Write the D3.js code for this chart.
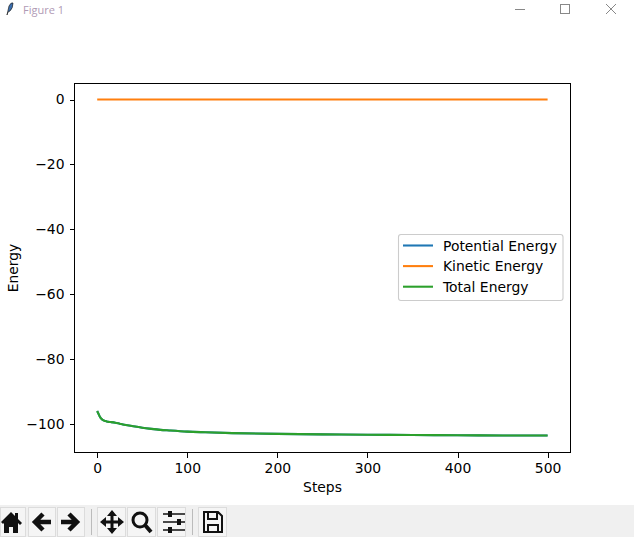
<!DOCTYPE html>
<html><head><meta charset="utf-8">
<script src="https://cdn.jsdelivr.net/npm/d3@7"></script>
<style>html,body{margin:0;padding:0;background:#fff;overflow:hidden}svg{display:block}text{font-family:"DejaVu Sans";fill:#000}</style>
</head><body><div id="c"></div>
<script>
const steps=[0,1,2,3,4,5,6,8,10,12,15,20,25,30,40,50,60,70,80,100,120,150,200,250,300,350,400,450,500];
const potential=[-96,-96.6,-97.2,-97.8,-98.2,-98.5,-98.7,-99,-99.15,-99.3,-99.4,-99.6,-99.9,-100.2,-100.7,-101.15,-101.5,-101.8,-102,-102.35,-102.55,-102.8,-103.05,-103.2,-103.3,-103.38,-103.47,-103.52,-103.55];
const kinetic=steps.map(()=>0);
const total=potential.slice();
const xTicks=[0,100,200,300,400,500];
const yTicks=[0,-20,-40,-60,-80,-100];
const legendLabels=["Potential Energy","Kinetic Energy","Total Energy"];
const colors=["#1f77b4","#ff7f0e","#2ca02c"];
const series=[potential,kinetic,total];
const W=634,H=537,L=74.5,R=570.5,T=83.5,B=452.5;
const x=d3.scaleLinear().domain([0,500]).range([97.2,547.6]);
const y=d3.scaleLinear().domain([0,-100]).range([99.5,424]);
const svg=d3.select("#c").append("svg").attr("width",W).attr("height",H);
svg.append("rect").attr("width",W).attr("height",H).attr("fill","#fff");
// title bar
const chrome=svg.append("g");
chrome.append("path").attr("d","M7 15 L9 6 Q11 2 13 3 Q13 8 10 11 L8 12 Z").attr("fill","#3a6fb0").attr("stroke","#222").attr("stroke-width",.7);
chrome.append("text").attr("x",23).attr("y",14).attr("font-size",11).style("font-family","'Open Sans'").style("fill","#b09ab5").text("Figure 1");
chrome.append("line").attr("x1",515).attr("x2",525).attr("y1",9.5).attr("y2",9.5).attr("stroke","#888");
chrome.append("rect").attr("x",560.5).attr("y",4.5).attr("width",9).attr("height",9).attr("fill","none").attr("stroke","#888");
chrome.append("path").attr("d","M606 4 L616 14 M616 4 L606 14").attr("stroke","#888").attr("fill","none");
// plot
const line=d3.line().curve(d3.curveMonotoneX).x((d,i)=>x(steps[i])).y(d=>y(d));
const plot=svg.append("g");
series.forEach((s,i)=>plot.append("path").datum(s).attr("d",line).attr("fill","none").attr("stroke",colors[i]).attr("stroke-width",2.08));
const ax=svg.append("g").attr("transform",`translate(0,${B})`).call(d3.axisBottom(x).tickValues(xTicks).tickSize(5).tickPadding(5.5).tickFormat(d3.format("d")));
const ay=svg.append("g").attr("transform",`translate(${L},0)`).call(d3.axisLeft(y).tickValues(yTicks).tickSize(5).tickPadding(5).tickFormat(d=>String(d).replace("-","\u2212")));
[ax,ay].forEach(a=>{a.select(".domain").remove();a.selectAll("text").attr("font-size",13.9).style("font-family","'DejaVu Sans'");a.selectAll("line").attr("stroke","#000").attr("stroke-width",1).attr("shape-rendering","crispEdges")});
svg.append("rect").attr("x",L).attr("y",T).attr("width",R-L).attr("height",B-T).attr("fill","none").attr("stroke","#000").attr("stroke-width",1);
svg.append("text").attr("x",322.5).attr("y",491.7).attr("text-anchor","middle").attr("font-size",13.9).text("Steps");
svg.append("text").attr("transform","translate(18.3,268) rotate(-90)").attr("text-anchor","middle").attr("font-size",13.9).text("Energy");
// legend
const lg=svg.append("g");
lg.append("rect").attr("x",398.5).attr("y",234.5).attr("width",164.5).attr("height",66).attr("rx",2.5).attr("fill","#fff").attr("fill-opacity",.8).attr("stroke","#ccc").attr("stroke-width",1.1);
legendLabels.forEach((t,i)=>{const yy=245.5+i*20.6;
 lg.append("line").attr("x1",403).attr("x2",433).attr("y1",yy).attr("y2",yy).attr("stroke",colors[i]).attr("stroke-width",2.08);
 lg.append("text").attr("x",443).attr("y",yy+5).attr("font-size",13.9).text(t);});
// toolbar
const tb=svg.append("g");
tb.append("rect").attr("y",505).attr("width",W).attr("height",32).attr("fill","#f0f0f0");
[[0,26],[28,28],[57,28],[97,29],[127,29],[157,29],[198,29]].forEach(([a,w])=>tb.append("rect").attr("x",a+.5).attr("y",507.5).attr("width",w-1).attr("height",29).attr("fill","#f5f5f5").attr("stroke","#dcdcdc"));
[91,192].forEach(a=>tb.append("line").attr("x1",a+.5).attr("x2",a+.5).attr("y1",509).attr("y2",535).attr("stroke","#bbb"));
tb.append("path").attr("d","M1 522 L11 512 L15 516 V513 H18 V519 L22 523 L20 525 L18 523 V533 H13 V527 H9 V533 H4 V523 L3 524 Z").attr("fill","#111");
tb.append("path").attr("d","M51 522 H37 M43 514 L35 522 L43 530").attr("fill","none").attr("stroke","#111").attr("stroke-width",4.5);
tb.append("path").attr("d","M61 522 H75 M69 514 L77 522 L69 530").attr("fill","none").attr("stroke","#111").attr("stroke-width",4.5);
tb.append("path").attr("d","M112 512 V532 M104 522 H120").attr("stroke","#111").attr("stroke-width",3);
tb.append("path").attr("d","M112 510 L107 516 H117 Z M112 534 L107 528 H117 Z M100 522 L106 517 V527 Z M124 522 L118 517 V527 Z").attr("fill","#111");
tb.append("circle").attr("cx",140).attr("cy",520).attr("r",7).attr("fill","none").attr("stroke","#111").attr("stroke-width",3);
tb.append("path").attr("d","M145 525 L151 532").attr("stroke","#111").attr("stroke-width",4);
tb.append("path").attr("d","M163 514 H185 M163 522 H185 M163 530 H185").attr("stroke","#111").attr("stroke-width",1.5);
tb.append("path").attr("d","M168 511 h4 v6 h-4 Z M177 519 h4 v6 h-4 Z M168 527 h4 v6 h-4 Z").attr("fill","#111");
tb.append("path").attr("d","M204 512 H218 L222 516 V532 H204 Z M208 512 V519 H217 V512 M208 532 V525 H218 V532").attr("fill","none").attr("stroke","#111").attr("stroke-width",2);
</script></body></html>
